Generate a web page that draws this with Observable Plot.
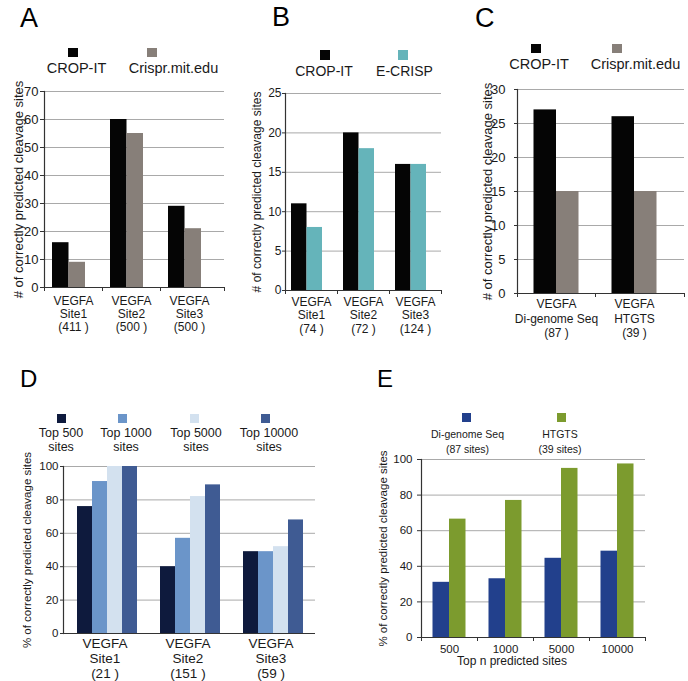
<!DOCTYPE html>
<html><head><meta charset="utf-8">
<script src="https://cdn.jsdelivr.net/npm/d3@7"></script>
<script src="https://cdn.jsdelivr.net/npm/@observablehq/plot@0.6"></script>
<style>
body{margin:0;background:#fff;}
#fig{position:relative;width:688px;height:681px;overflow:hidden;background:#fff;font-family:"Liberation Sans",Arial,Helvetica,sans-serif;}
.panel{position:absolute;}
.panel svg{max-width:none !important;}
#overlay{position:absolute;left:0;top:0;pointer-events:none;}
</style></head><body><div id="fig"></div>
<script>
// ---------- DATA ----------
// Panel A
const aSites = ["VEGFA\nSite1\n(411 )", "VEGFA\nSite2\n(500 )", "VEGFA\nSite3\n(500 )"];
const aSeries = ["CROP-IT", "Crispr.mit.edu"];
const aCropIt = [16, 60, 29];
const aMit = [9, 55, 21];
const aTicks = [0, 10, 20, 30, 40, 50, 60, 70];
// Panel B
const bSites = ["VEGFA\nSite1\n(74 )", "VEGFA\nSite2\n(72 )", "VEGFA\nSite3\n(124 )"];
const bSeries = ["CROP-IT", "E-CRISP"];
const bCropIt = [11, 20, 16];
const bECrisp = [8, 18, 16];
const bTicks = [0, 5, 10, 15, 20, 25];
// Panel C
const cSites = ["VEGFA\nDi-genome Seq\n(87 )", "VEGFA\nHTGTS\n(39 )"];
const cSeries = ["CROP-IT", "Crispr.mit.edu"];
const cCropIt = [27, 26];
const cMit = [15, 15];
const cTicks = [0, 5, 10, 15, 20, 25, 30];
// Panel D
const dSites = ["VEGFA\nSite1\n(21 )", "VEGFA\nSite2\n(151 )", "VEGFA\nSite3\n(59 )"];
const dSeries = ["Top 500\nsites", "Top 1000\nsites", "Top 5000\nsites", "Top 10000\nsites"];
const dTop500 = [76, 40, 49];
const dTop1000 = [91, 57, 49];
const dTop5000 = [100, 82, 52];
const dTop10000 = [100, 89, 68];
const dTicks = [0, 20, 40, 60, 80, 100];
// Panel E
const eTopN = ["500", "1000", "5000", "10000"];
const eSeries = ["Di-genome Seq\n(87 sites)", "HTGTS\n(39 sites)"];
const eDiGenome = [31, 33, 44.5, 48.5];
const eHTGTS = [66.5, 77, 95, 97.5];
const eTicks = [0, 20, 40, 60, 80, 100];

// ---------- STYLE ----------
const FONT = '"Liberation Sans", Arial, Helvetica, sans-serif';
const INK = "#1a1a1a";
const AXIS = "#333";
const GRID = "#a9a9a9";
const colBlack = "#050505", colGray = "#877f79", colTeal = "#65b4ba";
const dColors = ["#0e1a3d", "#6b95c9", "#d3e1ef", "#3f5b93"];
const eColors = ["#22408c", "#7c9b2e"];

const fig = document.getElementById("fig");

function groupedPanel(cfg) {
  const m = cfg.margin;
  const plotW = cfg.width - m.left - m.right;
  const plotH = cfg.height - m.top - m.bottom;
  const step = plotW / cfg.cats.length;
  const last = cfg.cats[cfg.cats.length - 1];
  const marks = [
    Plot.gridY({ticks: cfg.ticks.slice(1), stroke: GRID, strokeOpacity: 1, strokeWidth: 1, insetRight: -cfg.gridExtend}),
    ...cfg.values.map((vals, i) => Plot.barY(
      cfg.cats.map((c, j) => ({cat: c, value: vals[j]})),
      {x: "cat", y: "value", fill: cfg.colors[i],
       insetLeft: cfg.pad + i * cfg.barW,
       insetRight: step - cfg.pad - (i + 1) * cfg.barW})),
    Plot.ruleY([0], {stroke: AXIS, strokeWidth: 1.2, insetRight: -cfg.gridExtend}),
    Plot.frame({anchor: "left", stroke: AXIS, strokeWidth: 1.2}),
    Plot.axisY({ticks: cfg.ticks, tickSize: cfg.yTickSize, tickPadding: cfg.yTickPadding,
      fontSize: cfg.yFont, stroke: AXIS, fill: INK,
      label: cfg.yLabel, labelAnchor: "center", labelArrow: "none", labelOffset: cfg.labelOffset}),
    Plot.axisX({tickSize: 0, tickPadding: cfg.xPadding, fontSize: cfg.xFont,
      lineHeight: cfg.xLineHeight, fill: INK, label: null})
  ];
  if (cfg.boundaryTicks) {
    marks.push(Plot.ruleX(cfg.cats, {dx: -step / 2, insetTop: plotH, insetBottom: -4, stroke: AXIS}));
    marks.push(Plot.ruleX([last], {dx: step / 2 + cfg.gridExtend, insetTop: plotH, insetBottom: -4, stroke: AXIS}));
  }
  const chart = Plot.plot({
    width: cfg.width, height: cfg.height,
    marginTop: m.top, marginRight: m.right, marginBottom: m.bottom, marginLeft: m.left,
    style: {background: "transparent", fontFamily: FONT, color: INK, overflow: "visible"},
    x: {domain: cfg.cats, padding: 0, round: false},
    y: {domain: [0, cfg.yMax]},
    marks
  });
  const div = document.createElement("div");
  div.className = "panel";
  div.style.left = cfg.left + "px";
  div.style.top = cfg.top + "px";
  div.style.width = cfg.width + "px";
  div.style.height = cfg.height + "px";
  div.appendChild(chart);
  fig.appendChild(div);
}

const yTitle = "# of correctly predicted cleavage sites";
const yTitlePct = "% of correctly predicted cleavage sites";

groupedPanel({cats: aSites, values: [aCropIt, aMit], colors: [colBlack, colGray],
  left: 0, top: 0, width: 230, height: 340, margin: {top: 91, right: 12, bottom: 53, left: 44},
  yMax: 70, ticks: aTicks, pad: 8, barW: 16.5, gridExtend: 6, boundaryTicks: true,
  yLabel: yTitle, yFont: 13, yTickSize: 4, yTickPadding: 2, labelOffset: 31,
  xFont: 12, xLineHeight: 1.1, xPadding: 8});

groupedPanel({cats: bSites, values: [bCropIt, bECrisp], colors: [colBlack, colTeal],
  left: 229, top: 0, width: 230, height: 340, margin: {top: 93, right: 18, bottom: 50, left: 56},
  yMax: 25, ticks: bTicks, pad: 6, barW: 15.5, gridExtend: 0, boundaryTicks: true,
  yLabel: yTitle, yFont: 12, yTickSize: 3, yTickPadding: 1, labelOffset: 33,
  xFont: 12, xLineHeight: 1.12, xPadding: 6});

groupedPanel({cats: cSites, values: [cCropIt, cMit], colors: [colBlack, colGray],
  left: 459, top: 0, width: 229, height: 340, margin: {top: 89, right: 15, bottom: 47, left: 58},
  yMax: 30, ticks: cTicks, pad: 16.5, barW: 22.5, gridExtend: 11, boundaryTicks: true,
  yLabel: yTitle, yFont: 13, yTickSize: 3, yTickPadding: 9, labelOffset: 35,
  xFont: 12, xLineHeight: 1.17, xPadding: 5});

groupedPanel({cats: dSites, values: [dTop500, dTop1000, dTop5000, dTop10000], colors: dColors,
  left: 0, top: 340, width: 340, height: 341, margin: {top: 126, right: 28, bottom: 48, left: 63},
  yMax: 100, ticks: dTicks, pad: 14, barW: 15, gridExtend: 3, boundaryTicks: false,
  yLabel: yTitlePct, yFont: 11.5, yTickSize: 3, yTickPadding: 2, labelOffset: 41,
  xFont: 13.5, xLineHeight: 1.11, xPadding: 4});

groupedPanel({cats: eTopN, values: [eDiGenome, eHTGTS], colors: eColors,
  left: 345, top: 340, width: 343, height: 341, margin: {top: 119, right: 43, bottom: 44, left: 76},
  yMax: 100, ticks: eTicks, pad: 11.5, barW: 16.5, gridExtend: 0, boundaryTicks: true,
  yLabel: yTitlePct, yFont: 11.5, yTickSize: 4, yTickPadding: 5, labelOffset: 43,
  xFont: 11.5, xLineHeight: 1, xPadding: 7});

// ---------- OVERLAY: panel letters, legends, E x-title ----------
const letters = [
  {t: "A", x: 20, y: 27, size: 27}, {t: "B", x: 272, y: 26, size: 27}, {t: "C", x: 475, y: 27, size: 27},
  {t: "D", x: 20, y: 387, size: 24}, {t: "E", x: 377, y: 387, size: 24}
];
const legends = [
  {names: aSeries, colors: [colBlack, colGray], size: 14.5, sw: 10, sh: 9,
   swatch: [[68, 48], [147, 48]], label: [[76.5, 73], [173.5, 73]], lh: 14},
  {names: bSeries, colors: [colBlack, colTeal], size: 14, sw: 10, sh: 10,
   swatch: [[320, 50], [398, 50]], label: [[324, 76], [404.5, 76]], lh: 14},
  {names: cSeries, colors: [colBlack, colGray], size: 14.5, sw: 10, sh: 9,
   swatch: [[531, 44], [612, 44]], label: [[539, 69], [635.5, 69]], lh: 14},
  {names: dSeries, colors: dColors, size: 12.5, sw: 9, sh: 9,
   swatch: [[57, 414], [118, 414], [190, 414], [261, 414]],
   label: [[61, 437], [126, 437], [196, 437], [269, 437]], lh: 14},
  {names: eSeries, colors: eColors, size: 10.5, sw: 9, sh: 9,
   swatch: [[462, 413], [557, 413]], label: [[467.5, 438], [560, 438]], lh: 15}
];

const ov = d3.select(fig).append("svg").attr("id", "overlay")
  .attr("width", 688).attr("height", 681)
  .style("font-family", FONT);

ov.selectAll("text.letter").data(letters).join("text").attr("class", "letter")
  .attr("x", d => d.x).attr("y", d => d.y).attr("font-size", d => d.size)
  .attr("fill", "#000").text(d => d.t);

legends.forEach(L => {
  L.names.forEach((name, i) => {
    ov.append("rect").attr("x", L.swatch[i][0]).attr("y", L.swatch[i][1])
      .attr("width", L.sw).attr("height", L.sh).attr("fill", L.colors[i]);
    const t = ov.append("text").attr("x", L.label[i][0]).attr("y", L.label[i][1])
      .attr("text-anchor", "middle").attr("font-size", L.size).attr("fill", INK);
    name.split("\n").forEach((line, k) => {
      t.append("tspan").attr("x", L.label[i][0]).attr("dy", k === 0 ? 0 : L.lh).text(line);
    });
  });
});

ov.append("text").attr("x", 512).attr("y", 665).attr("text-anchor", "middle")
  .attr("font-size", 12).attr("fill", INK).text("Top n predicted sites");
</script>
</body></html>
